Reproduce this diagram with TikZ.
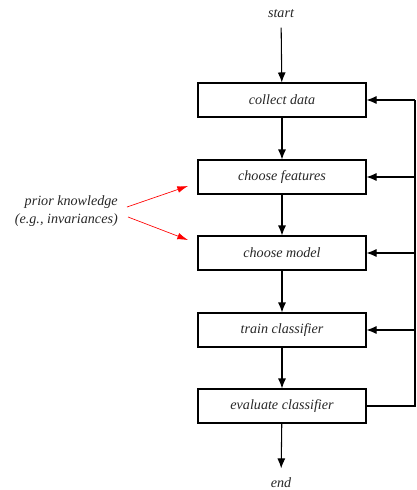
\documentclass[tikz,border=0pt]{standalone}
\usepackage{fontspec}
\setmainfont{Liberation Serif}
\usetikzlibrary{arrows.meta}

\tikzset{
  stepbox/.style={draw, line width=0.8pt, minimum width=126pt, minimum height=25.5pt, inner sep=0pt},
  flow/.style={line width=0.8pt, -{Latex[length=7.5pt,width=6pt]}},
  hint/.style={red, line width=0.5pt, -{Latex[length=8pt,width=5pt]}},
  endpoint/.style={inner sep=7pt}
}

\begin{document}
\begin{tikzpicture}[x=0.75pt, y=-0.75pt, font=\itshape\fontsize{10.6}{13}\selectfont, text=black!85]
\useasboundingbox (0,0) rectangle (417,490);

% the stages
\node[stepbox] (collect)  at (282,100) {collect data};
\node[stepbox] (features) at (282,177) {choose features};
\node[stepbox] (model)    at (282,253) {choose model};
\node[stepbox] (train)    at (282,330) {train classifier};
\node[stepbox] (evaluate) at (282,406) {evaluate classifier};

\node[endpoint] (start) at (281,14) {start};
\node[endpoint] (end)   at (281,483) {end};

\draw[flow] (start) -- (collect);
\draw[flow] (collect) -- (features);
\draw[flow] (features) -- (model);
\draw[flow] (model) -- (train);
\draw[flow] (train) -- (evaluate);
\draw[flow] (evaluate) -- (end);

% feedback loop
\coordinate (loop) at (415,406);
\draw[line width=0.8pt] (evaluate.east) -- (loop) -- (loop |- collect);
\foreach \n in {collect,features,model,train} {
  \draw[flow] (loop |- \n) -- (\n.east);
}

% prior knowledge
\node[align=right, anchor=east, inner sep=0pt] (prior) at (118,211) {prior knowledge\\(e.g., invariances)};
\coordinate (tipf) at (188,186);
\coordinate (tipm) at (188,240);
\draw[hint] ([shift={(9,-4)}]prior.east) -- (tipf);
\draw[hint] ([shift={(10,6)}]prior.east) -- (tipm);
\end{tikzpicture}
\end{document}
